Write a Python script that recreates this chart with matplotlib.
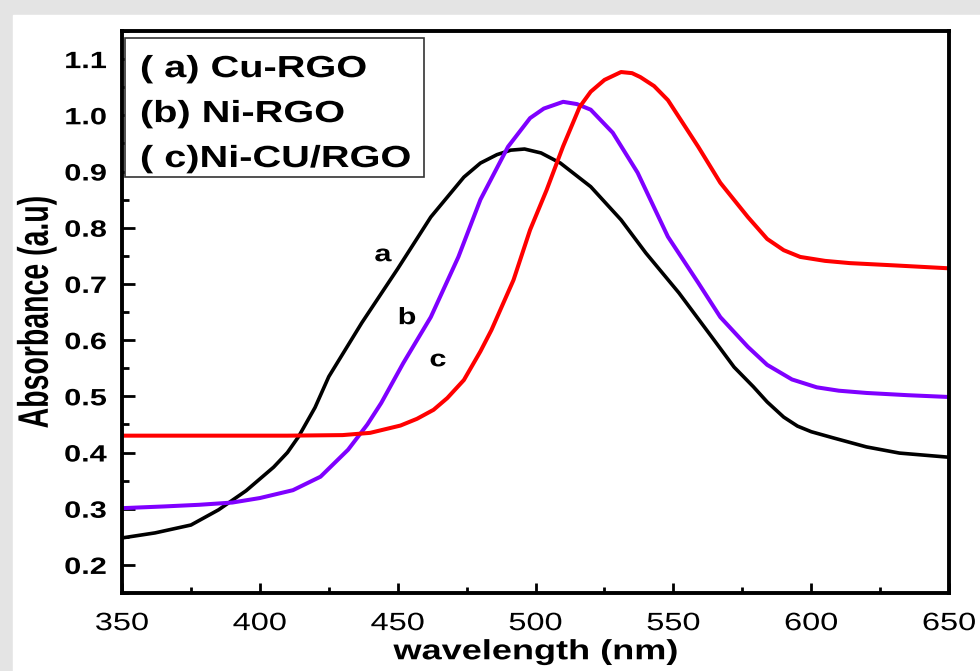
import numpy as np
import matplotlib.pyplot as plt
from matplotlib.ticker import MultipleLocator
from matplotlib.patches import Rectangle
from matplotlib.patheffects import AbstractPathEffect
from matplotlib.transforms import Affine2D

plt.rcParams['font.family'] = ['Liberation Sans', 'DejaVu Sans']

# ---- data ----
x_a = [350, 362, 375, 385, 395, 405, 410, 414, 420, 425, 437, 450, 462, 474, 480, 486, 491, 496, 502, 509, 520, 531, 540, 552, 564, 572, 579, 584, 590, 595, 600, 608, 620, 632, 649]
y_a = [0.248, 0.257, 0.271, 0.298, 0.332, 0.374, 0.400, 0.428, 0.480, 0.535, 0.631, 0.727, 0.819, 0.890, 0.915, 0.930, 0.938, 0.940, 0.933, 0.915, 0.873, 0.814, 0.755, 0.684, 0.605, 0.552, 0.517, 0.490, 0.463, 0.447, 0.437, 0.426, 0.410, 0.399, 0.392]

x_b = [350, 365, 378, 390, 400, 412, 422, 432, 439, 444, 452, 462, 472, 480, 490, 498, 503, 510, 515, 520, 528, 537, 548, 559, 567, 577, 584, 593, 602, 610, 620, 635, 649]
y_b = [0.301, 0.304, 0.307, 0.311, 0.319, 0.333, 0.357, 0.405, 0.450, 0.488, 0.559, 0.641, 0.748, 0.850, 0.944, 0.995, 1.012, 1.024, 1.020, 1.010, 0.969, 0.898, 0.784, 0.702, 0.641, 0.588, 0.556, 0.530, 0.516, 0.510, 0.506, 0.502, 0.499]

x_c = [350, 380, 410, 430, 440, 451, 457, 463, 468, 474, 480, 484, 492, 498, 504, 510, 516, 520, 525, 531, 535, 538, 543, 548, 559, 567, 577, 584, 590, 596, 605, 614, 630, 649]
y_c = [0.430, 0.430, 0.430, 0.431, 0.435, 0.448, 0.460, 0.476, 0.497, 0.529, 0.580, 0.618, 0.707, 0.796, 0.867, 0.945, 1.015, 1.042, 1.063, 1.077, 1.075, 1.068, 1.052, 1.027, 0.944, 0.880, 0.819, 0.780, 0.760, 0.748, 0.741, 0.737, 0.733, 0.728]

labels = ['( a) Cu-RGO', '(b) Ni-RGO', '( c)Ni-CU/RGO']
colors = ['black', '#7f00ff', '#ff0000']


class Stretch(AbstractPathEffect):
    # the original picture is stretched sideways, so stretch the text too
    def __init__(self, s=1.3, anchor='center', vertical=False):
        super().__init__()
        self.s = s
        self.anchor = anchor
        self.vertical = vertical

    def draw_path(self, renderer, gc, tpath, affine, rgbFace=None):
        ext = tpath.get_extents()
        if self.vertical:
            c = (ext.y0 + ext.y1) / 2
            t = Affine2D().translate(0, -c).scale(1, self.s).translate(0, c)
        else:
            if self.anchor == 'left':
                c = 0
            elif self.anchor == 'right':
                c = ext.x1
            else:
                c = (ext.x0 + ext.x1) / 2
            t = Affine2D().translate(-c, 0).scale(self.s, 1).translate(c, 0)
        renderer.draw_path(gc, tpath, t + affine, rgbFace)


fig = plt.figure(figsize=(9.8, 6.71), dpi=100)
fig.patch.set_facecolor('#e4e4e4')
fig.patches.append(Rectangle((0.013, 0), 0.987, 0.977, transform=fig.transFigure,
                             color='white', zorder=-5))

ax = fig.add_axes([0.1245, 0.1162, 0.844, 0.8376])
ax.plot(x_a, y_a, color=colors[0], lw=2.6)
ax.plot(x_b, y_b, color=colors[1], lw=2.9)
ax.plot(x_c, y_c, color=colors[2], lw=2.9)

ax.set_xlim(350, 650)
ax.set_ylim(0.15, 1.15)
ax.set_xticks([350, 400, 450, 500, 550, 600, 650])
ax.set_yticks([0.2, 0.3, 0.4, 0.5, 0.6, 0.7, 0.8, 0.9, 1.0, 1.1])
ax.xaxis.set_minor_locator(MultipleLocator(25))
ax.yaxis.set_minor_locator(MultipleLocator(0.05))
ax.tick_params(which='both', direction='in', width=2, top=False, right=False)
ax.tick_params(axis='x', which='major', length=7.5, labelsize=18, pad=13)
ax.tick_params(axis='x', which='minor', length=4)
ax.tick_params(axis='y', which='major', length=9.5, labelsize=17, pad=11)
ax.tick_params(axis='y', which='minor', length=5)
for t in ax.get_xticklabels():
    t.set_path_effects([Stretch(1.3)])
for t in ax.get_yticklabels():
    t.set_fontweight('bold')
    t.set_path_effects([Stretch(1.3, anchor='right')])
for s in ax.spines.values():
    s.set_linewidth(2.8)

xl = ax.set_xlabel('wavelength (nm)', fontsize=20, fontweight='bold', labelpad=3)
xl.set_path_effects([Stretch(1.3)])
yl = ax.set_ylabel('Absorbance (a.u)', fontsize=20.5, fontweight='bold', labelpad=17)
yl.set_path_effects([Stretch(1.5, vertical=True)])

for lx, ly, s in [(444.7, 0.752, 'a'), (453.4, 0.640, 'b'), (464.6, 0.565, 'c')]:
    ax.text(lx, ly, s, fontsize=17, fontweight='bold', ha='center', va='center',
            path_effects=[Stretch(1.3)])

# legend box with text only
ax.add_patch(Rectangle((351.1, 0.890), 108.5, 0.248, facecolor='white',
                       edgecolor='#333333', lw=1.2, zorder=3))
for i, lab in enumerate(labels):
    ax.text(356.5, 1.068 - i * 0.08, lab, fontsize=22, fontweight='bold', va='baseline',
            ha='left', zorder=4, path_effects=[Stretch(1.3, anchor='left')])

fig.savefig('out.png', dpi=100, facecolor=fig.get_facecolor())
